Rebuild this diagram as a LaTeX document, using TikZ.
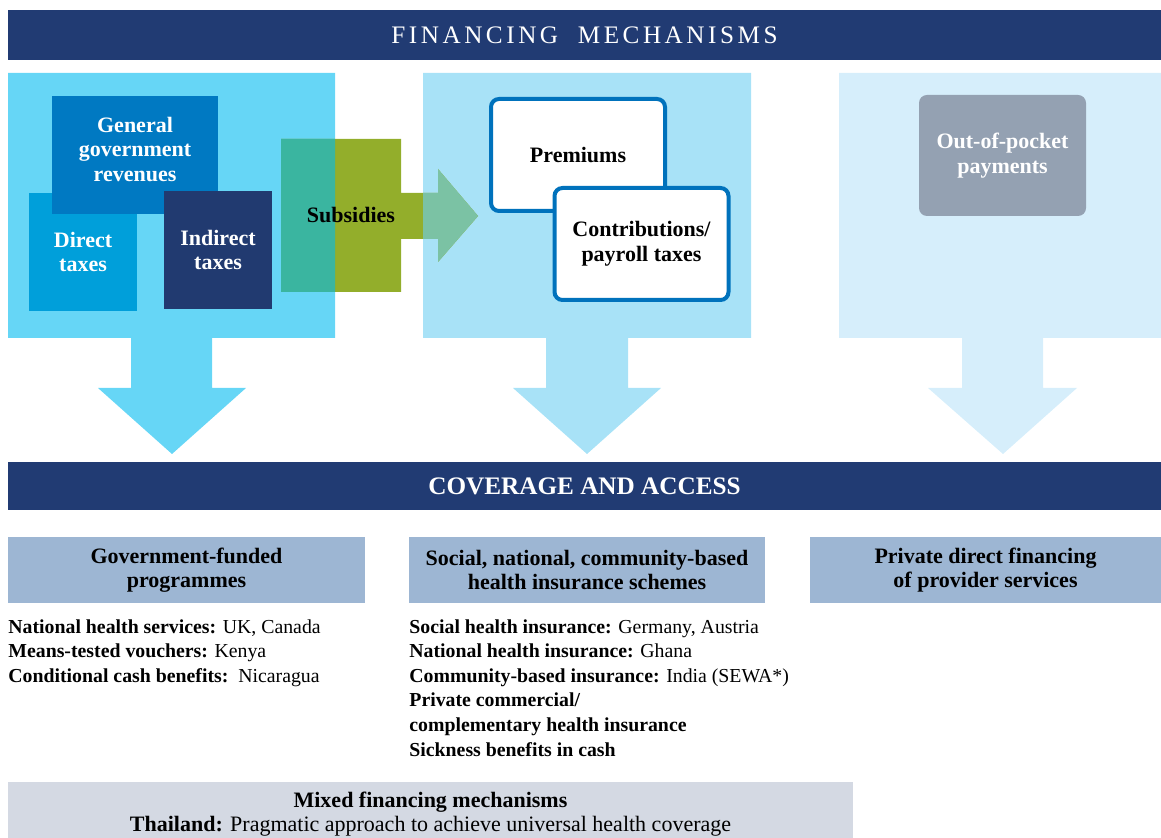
\documentclass[tikz,border=0pt]{standalone}
\usepackage{fontspec}
\setmainfont{Liberation Serif}
\usetikzlibrary{positioning}
\definecolor{navy}{HTML}{213B73}
\definecolor{panelA}{HTML}{66D6F6}
\definecolor{panelB}{HTML}{A8E2F7}
\definecolor{panelC}{HTML}{D6EEFB}
\definecolor{genrev}{HTML}{0079C2}
\definecolor{dirtax}{HTML}{009FDA}
\definecolor{indtax}{HTML}{213A70}
\definecolor{subgreen}{HTML}{93AE2B}
\definecolor{subteal}{HTML}{3AB5A0}
\definecolor{sublight}{HTML}{7BC2A4}
\definecolor{insblue}{HTML}{0072BC}
\definecolor{oopgrey}{HTML}{94A1B2}
\definecolor{catblue}{HTML}{9DB6D3}
\definecolor{mixgrey}{HTML}{D4D9E3}
\tikzset{
  banner/.style={fill=navy,text=white,minimum width=576.5pt,inner sep=0pt},
  taxbox/.style={text=white,inner sep=0pt,align=center,font=\bfseries\fontsize{11}{12.3}\selectfont},
  insbox/.style={draw=insblue,line width=2pt,fill=white,rounded corners=4pt,inner sep=0pt,
    minimum width=87pt,minimum height=56pt,align=center,font=\bfseries\fontsize{11}{12.3}\selectfont},
  catbox/.style={fill=catblue,inner sep=0pt,minimum height=33pt,align=center,
    font=\bfseries\fontsize{11}{12.3}\selectfont},
  listtext/.style={inner sep=0pt,align=left,anchor=north west,font=\fontsize{9.9}{12.3}\selectfont},
  subsidyshape/.style={insert path={(281,139) -- (401,139) -- (401,193) -- (438,193) -- (438,169)
    -- (478,216) -- (438,262) -- (438,239) -- (401,239) -- (401,292) -- (281,292) -- cycle}}
}
\begin{document}
\begin{tikzpicture}[x=0.5pt,y=-0.5pt]
\useasboundingbox (0,0) rectangle (1161,838);

\node[banner,minimum height=25pt,font=\fontsize{12.6}{14}\selectfont\addfontfeatures{LetterSpace=14}] (fin) at (584.5,35) {FINANCING\ \ MECHANISMS};

\fill[panelA] (8,73) -| (335,338) -- (212,338) -- (212,388) -- (246,388) -- (172,454) -- (98,388) -- (131,388) -- (131,338) -- (8,338) -- cycle;
\fill[panelB] (423,73) -| (751,338) -- (628,338) -- (628,388) -- (661,388) -- (587,454) -- (513,388) -- (546,388) -- (546,338) -- (423,338) -- cycle;
\fill[panelC] (839,73) -| (1161,338) -- (1043,338) -- (1043,388) -- (1077,388) -- (1003,454) -- (928,388) -- (962,388) -- (962,338) -- (839,338) -- cycle;

\node[taxbox,fill=dirtax,minimum width=54pt,minimum height=59pt] (direct) at (83,252) {Direct\\taxes};
\node[taxbox,fill=genrev,minimum width=83pt,minimum height=59pt,text depth=6pt] (general) at (135,155) {General\\government\\revenues};
\node[taxbox,fill=indtax,minimum width=54pt,minimum height=59pt] (indirect) at (218,250) {Indirect\\taxes};

\fill[subgreen,subsidyshape];
\begin{scope}
\clip (8,73) rectangle (335,338);
\fill[subteal,subsidyshape];
\end{scope}
\begin{scope}
\clip (423,73) rectangle (751,338);
\fill[sublight,subsidyshape];
\end{scope}
\node[inner sep=0pt,font=\bfseries\fontsize{11}{12.3}\selectfont] (subsidies) at (351,215) {Subsidies};

\node[insbox] (premiums) at (578,155) {Premiums};
\node[insbox] (contrib) at (641.5,244) {Contributions/\\payroll taxes};

\node[taxbox,fill=oopgrey,rounded corners=4pt,minimum width=83.5pt,minimum height=60.5pt] (oop) at (1002.5,155.5) {Out-of-pocket\\payments};

\node[banner,minimum height=24pt,font=\bfseries\fontsize{12.6}{14}\selectfont] (cov) at (584.5,486) {COVERAGE AND ACCESS};

\node[catbox,minimum width=178.5pt] (govfund) at (186.5,570) {Government-funded\\programmes};
\node[catbox,minimum width=178pt] (social) at (587,570) {Social, national, community-based\\health insurance schemes};
\node[catbox,minimum width=175.5pt] (private) at (985.5,570) {Private direct financing\\of provider services};

\node[listtext] (govlist) at (8,619) {\textbf{National health services:} UK, Canada\\
\textbf{Means-tested vouchers:} Kenya\\
\textbf{Conditional cash benefits:}\ \ Nicaragua};
\node[listtext] (soclist) at (409,619) {\textbf{Social health insurance:} Germany, Austria\\
\textbf{National health insurance:} Ghana\\
\textbf{Community-based insurance:} India (SEWA*)\\
\textbf{Private commercial/}\\
\textbf{complementary health insurance}\\
\textbf{Sickness benefits in cash}};

\node[fill=mixgrey,inner sep=0pt,minimum width=422.5pt,minimum height=32pt,align=center,font=\fontsize{11}{12.3}\selectfont] (mixed) at (430.5,814) {\textbf{Mixed financing mechanisms}\\
\textbf{Thailand:} Pragmatic approach to achieve universal health coverage};
\end{tikzpicture}
\end{document}
